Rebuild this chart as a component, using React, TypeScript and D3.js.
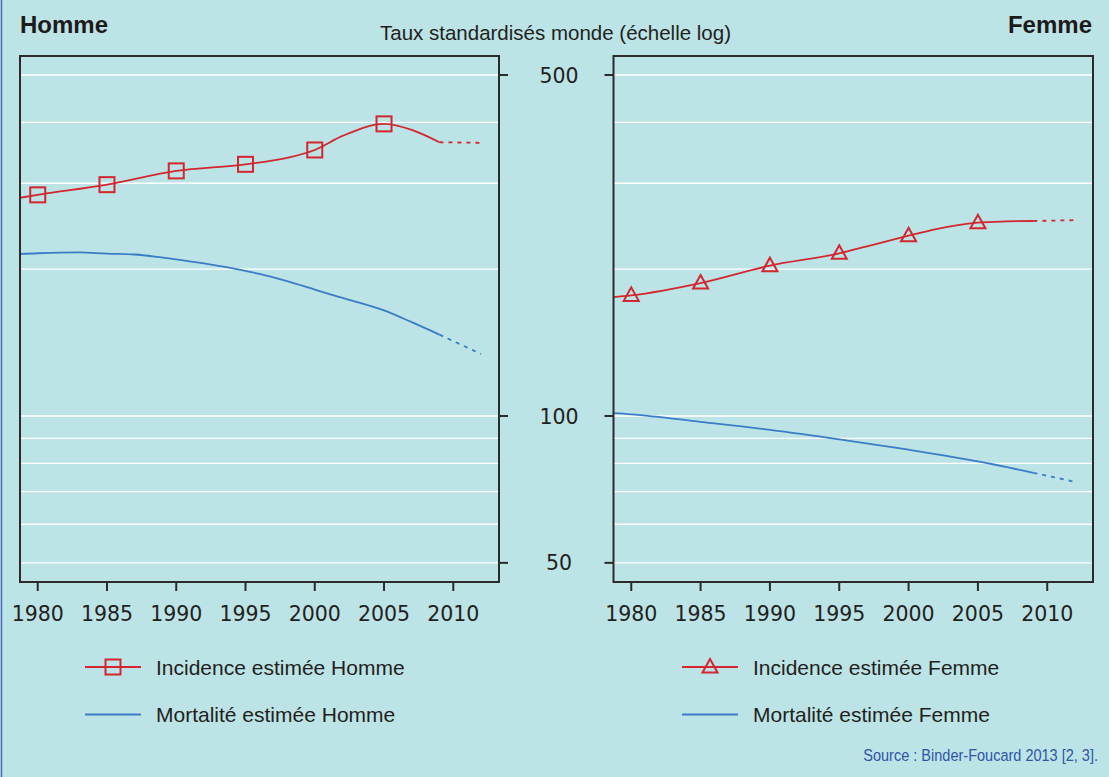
import React from 'react';
import * as d3 from 'd3';

// Axis ticks / grid
const yearTicks = [1980, 1985, 1990, 1995, 2000, 2005, 2010];
const rateTicks = [50, 100, 500];
const gridValues = [50, 60, 70, 80, 90, 100, 200, 300, 400, 500];
const markerYears = [1980, 1985, 1990, 1995, 2000, 2005];

// Homme
const hommeIncYears = [1978, 1980, 1985, 1990, 1995, 1998, 2000, 2002, 2005, 2007, 2009];
const hommeIncValues = [278, 284, 298, 318, 328, 338, 351, 375, 397, 386, 364];
const hommeIncProjYears = [2009, 2012];
const hommeIncProjValues = [364, 363];

const hommeMortYears = [1978, 1980, 1983, 1985, 1987, 1990, 1992, 1994, 1996, 1998, 2000, 2002, 2005, 2007, 2009];
const hommeMortValues = [214.3, 215.6, 216.5, 215.2, 214.3, 209.5, 205.5, 201, 195.5, 189, 181.6, 174.6, 164.6, 155.7, 146.8];
const hommeMortProjYears = [2009, 2012];
const hommeMortProjValues = [146.8, 134];

// Femme
const femmeIncYears = [1978, 1980, 1985, 1990, 1995, 1997, 2000, 2002, 2005, 2007, 2009];
const femmeIncValues = [174.5, 176.7, 187.3, 203.3, 215.5, 222.7, 234.2, 241.7, 249.0, 250.5, 251.0];
const femmeIncProjYears = [2009, 2012];
const femmeIncProjValues = [251, 252];

const femmeMortYears = [1978, 1980, 1985, 1990, 1995, 2000, 2005, 2009];
const femmeMortValues = [101.6, 100.8, 97.3, 93.7, 89.6, 85.3, 80.7, 76.5];
const femmeMortProjYears = [2009, 2012];
const femmeMortProjValues = [76.5, 73.3];

const BG = '#bce3e6';
const RED = '#d2272f';
const BLUE = '#3a7cc6';
const DARK = '#2b2b2b';
const TICK_FONT = '"DejaVu Sans", sans-serif';
const TEXT_FONT = '"Liberation Sans", Arial, sans-serif';

const TOP = 56;
const BOTTOM = 582;

const yScale = d3.scaleLog().domain([100, 500]).range([416, 75]);

type Pt = { year: number; value: number };
const zip = (ys: number[], vs: number[]): Pt[] => ys.map((y, i) => ({ year: y, value: vs[i] }));

interface PanelProps {
  id: string;
  x0: number;
  x1: number;
  tickSide: 'left' | 'right';
  inc: Pt[];
  incProj: Pt[];
  mort: Pt[];
  mortProj: Pt[];
  marker: 'square' | 'triangle';
}

const Marker = ({ kind, x, y }: { kind: 'square' | 'triangle'; x: number; y: number }) => {
  if (kind === 'square') {
    return <rect x={x - 7.5} y={y - 7.5} width={15} height={15} fill="none" stroke={RED} strokeWidth={2} />;
  }
  return (
    <path
      d={`M${x},${y - 8} L${x + 7.5},${y + 5.5} L${x - 7.5},${y + 5.5} Z`}
      fill="none"
      stroke={RED}
      strokeWidth={2}
      strokeLinejoin="miter"
    />
  );
};

const Panel = ({ id, x0, x1, tickSide, inc, incProj, mort, mortProj, marker }: PanelProps) => {
  const xScale = d3.scaleLinear().domain([1978.72, 2013.3]).range([x0, x1]);
  const line = d3.line<Pt>()
    .x(d => xScale(d.year))
    .y(d => yScale(d.value))
    .curve(d3.curveMonotoneX);
  const straight = d3.line<Pt>()
    .x(d => xScale(d.year))
    .y(d => yScale(d.value));

  const markers = markerYears.map(yr => inc.find(p => p.year === yr)).filter(Boolean) as Pt[];

  return (
    <g>
      <defs>
        <clipPath id={id}>
          <rect x={x0} y={TOP} width={x1 - x0} height={BOTTOM - TOP} />
        </clipPath>
      </defs>
      {gridValues.map(v => (
        <line key={v} x1={x0} x2={x1} y1={yScale(v)} y2={yScale(v)} stroke="#ffffff" strokeWidth={1.3} />
      ))}
      <g clipPath={`url(#${id})`}>
        <path d={line(mort) || ''} fill="none" stroke={BLUE} strokeWidth={1.8} />
        <path d={straight(mortProj) || ''} fill="none" stroke={BLUE} strokeWidth={1.8} strokeDasharray="4,5" />
        <path d={line(inc) || ''} fill="none" stroke={RED} strokeWidth={1.8} />
        <path d={straight(incProj) || ''} fill="none" stroke={RED} strokeWidth={1.8} strokeDasharray="4,5" />
        {markers.map(p => (
          <Marker key={p.year} kind={marker} x={xScale(p.year)} y={yScale(p.value)} />
        ))}
      </g>
      <rect x={x0} y={TOP} width={x1 - x0} height={BOTTOM - TOP} fill="none" stroke={DARK} strokeWidth={2} />
      {yearTicks.map(t => (
        <g key={t}>
          <line x1={xScale(t)} x2={xScale(t)} y1={BOTTOM} y2={BOTTOM + 9} stroke={DARK} strokeWidth={2} />
          <text x={xScale(t)} y={620.5} textAnchor="middle" fontFamily={TICK_FONT} fontSize={20.5} fill="#231f20">
            {t}
          </text>
        </g>
      ))}
      {rateTicks.map(v => {
        const xa = tickSide === 'right' ? x1 : x0 - 9;
        return <line key={v} x1={xa} x2={xa + 9} y1={yScale(v)} y2={yScale(v)} stroke={DARK} strokeWidth={2} />;
      })}
    </g>
  );
};

const LegendItem = ({ x, y, withMarker, color, label }: { x: number; y: number; withMarker?: 'square' | 'triangle'; color: string; label: string }) => (
  <g>
    <line x1={x} x2={x + 56} y1={y} y2={y} stroke={color} strokeWidth={2} />
    {withMarker && <Marker kind={withMarker} x={x + 28} y={y} />}
    <text x={x + 71} y={y + 7.5} fontFamily={TEXT_FONT} fontSize={21} fill="#231f20">
      {label}
    </text>
  </g>
);

export default function App() {
  return (
    <svg
      width={1109}
      height={777}
      style={{ position: 'absolute', left: 0, top: 0, display: 'block' }}
    >
      <rect x={0} y={0} width={1109} height={777} fill={BG} />
      <line x1={1.5} x2={1.5} y1={0} y2={777} stroke="#4d67bb" strokeWidth={1.5} />

      <text x={20} y={33} fontFamily={TEXT_FONT} fontWeight="bold" fontSize={24} fill="#1e1a1b">Homme</text>
      <text x={1092} y={33} textAnchor="end" fontFamily={TEXT_FONT} fontWeight="bold" fontSize={24} fill="#1e1a1b">Femme</text>
      <text x={380} y={40} fontFamily={TEXT_FONT} fontSize={20.5} fill="#231f20">Taux standardisés monde (échelle log)</text>

      <Panel
        id="clip-homme"
        x0={20}
        x1={499}
        tickSide="right"
        inc={zip(hommeIncYears, hommeIncValues)}
        incProj={zip(hommeIncProjYears, hommeIncProjValues)}
        mort={zip(hommeMortYears, hommeMortValues)}
        mortProj={zip(hommeMortProjYears, hommeMortProjValues)}
        marker="square"
      />
      <Panel
        id="clip-femme"
        x0={613.5}
        x1={1093}
        tickSide="left"
        inc={zip(femmeIncYears, femmeIncValues)}
        incProj={zip(femmeIncProjYears, femmeIncProjValues)}
        mort={zip(femmeMortYears, femmeMortValues)}
        mortProj={zip(femmeMortProjYears, femmeMortProjValues)}
        marker="triangle"
      />

      {rateTicks.map(v => (
        <text key={v} x={559} y={yScale(v) + 7.5} textAnchor="middle" fontFamily={TICK_FONT} fontSize={20.5} fill="#231f20">
          {v}
        </text>
      ))}

      <LegendItem x={85} y={667} withMarker="square" color={RED} label="Incidence estimée Homme" />
      <LegendItem x={85} y={714.5} color={BLUE} label="Mortalité estimée Homme" />
      <LegendItem x={682} y={667} withMarker="triangle" color={RED} label="Incidence estimée Femme" />
      <LegendItem x={682} y={714.5} color={BLUE} label="Mortalité estimée Femme" />

      <g transform="translate(1098,761) scale(0.88,1)">
        <text x={0} y={0} textAnchor="end" fontFamily={TEXT_FONT} fontSize={16.5} fill="#2f55a6">
          Source : Binder-Foucard 2013 [2, 3].
        </text>
      </g>
    </svg>
  );
}
